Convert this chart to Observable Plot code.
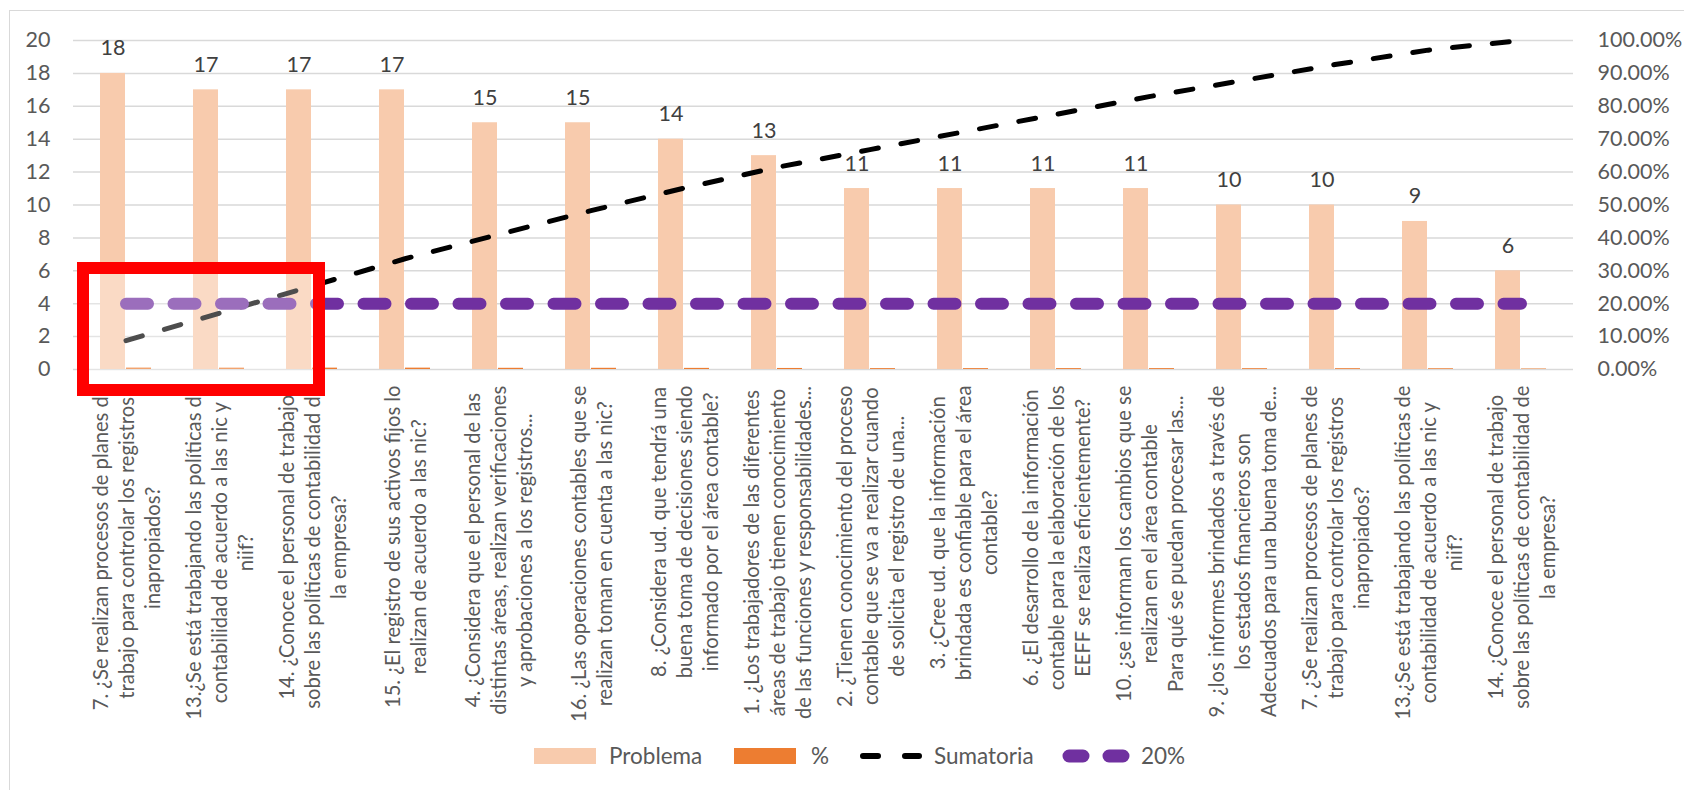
<!DOCTYPE html>
<html><head><meta charset="utf-8">
<script src="https://cdn.jsdelivr.net/npm/d3@7"></script>
<script src="https://cdn.jsdelivr.net/npm/@observablehq/plot@0.6"></script>
<style>
body{margin:0;background:#fff;font-family:Lato,sans-serif;}
#wrap{position:relative;width:1684px;height:790px;overflow:hidden;background:#fff;}
#frame{position:absolute;left:9px;top:10px;width:1700px;height:800px;border:1.5px solid #D9D9D9;box-sizing:border-box;}
#chart{position:absolute;left:0;top:0;}
#legend{position:absolute;top:743px;left:0;width:1684px;height:26px;font-size:22.5px;color:#595959;white-space:nowrap;}
#legend > *{position:absolute;}
#legend span{top:0;line-height:26px;}
#legend .sw{top:5px;width:62px;height:16px;}
#legend svg{top:0;}
#highlight{position:absolute;left:77px;top:262px;width:248px;height:134px;border:12px solid #FF0000;background:rgba(255,255,255,0.3);box-sizing:border-box;}
</style></head>
<body><div id="wrap"><div id="frame"></div><div id="chart"></div><div id="legend"></div><div id="highlight"></div></div>
<script>
const preguntas = [
  "7. ¿Se realizan procesos de planes de\ntrabajo para controlar los registros\ninapropiados?",
  "13.¿Se está trabajando las políticas de\ncontabilidad de acuerdo a las nic y\nniif?",
  "14. ¿Conoce el personal de trabajo\nsobre las políticas de contabilidad de\nla empresa?",
  "15. ¿El registro de sus activos fijos lo\nrealizan de acuerdo a las nic?",
  "4. ¿Considera que el personal de las\ndistintas áreas, realizan verificaciones\ny aprobaciones a los registros...",
  "16. ¿Las operaciones contables que se\nrealizan toman en cuenta a las nic?",
  "8. ¿Considera ud. que tendrá una\nbuena toma de decisiones siendo\ninformado por el área contable?",
  "1. ¿Los trabajadores de las diferentes\náreas de trabajo tienen conocimiento\nde las funciones y responsabilidades...",
  "2. ¿Tienen conocimiento del proceso\ncontable que se va a realizar cuando\nde solicita el registro de una...",
  "3. ¿Cree ud. que la información\nbrindada es confiable para el área\ncontable?",
  "6. ¿El desarrollo de la información\ncontable para la elaboración de los\nEEFF se realiza eficientemente?",
  "10. ¿se informan los cambios que se\nrealizan en el área contable\nPara qué se puedan procesar las...",
  "9. ¿los informes brindados a través de\nlos estados financieros son\nAdecuados para una buena toma de...",
  "7. ¿Se realizan procesos de planes de\ntrabajo para controlar los registros\ninapropiados?",
  "13.¿Se está trabajando las políticas de\ncontabilidad de acuerdo a las nic y\nniif?",
  "14. ¿Conoce el personal de trabajo\nsobre las políticas de contabilidad de\nla empresa?"
];
const problema   = [18, 17, 17, 17, 15, 15, 14, 13, 11, 11, 11, 11, 10, 10, 9, 6];
const porcentaje = [0.0878, 0.0829, 0.0829, 0.0829, 0.0732, 0.0732, 0.0683, 0.0634, 0.0537, 0.0537, 0.0537, 0.0537, 0.0488, 0.0488, 0.0439, 0.0293];
const sumatoria  = [0.0878, 0.1707, 0.2537, 0.3366, 0.4098, 0.4829, 0.5512, 0.6146, 0.6683, 0.7220, 0.7756, 0.8293, 0.8780, 0.9268, 0.9707, 1.0000];
const linea20    = [0.2, 0.2, 0.2, 0.2, 0.2, 0.2, 0.2, 0.2, 0.2, 0.2, 0.2, 0.2, 0.2, 0.2, 0.2, 0.2];
const ticksIzq   = [0, 2, 4, 6, 8, 10, 12, 14, 16, 18, 20];
const ticksDer   = ["0.00%", "10.00%", "20.00%", "30.00%", "40.00%", "50.00%", "60.00%", "70.00%", "80.00%", "90.00%", "100.00%"];
const series     = ["Problema", "%", "Sumatoria", "20%"];

const colores = {problema: "#F8CBAD", pct: "#ED7D31", suma: "#000000", l20: "#7030A0"};
const ESCALA = 20; // 100% on the secondary axis equals 20 on the primary axis
const FUENTE = "Lato, sans-serif";
const TAM_ETIQ = 20.2;

const datos = preguntas.map((p, i) => ({
  i, pregunta: p, problema: problema[i], porcentaje: porcentaje[i],
  sumatoria: sumatoria[i], linea20: linea20[i]
}));

// measure each rotated category label so its longest line ends at the axis and the others are centred on it
const ctx = document.createElement("canvas").getContext("2d");
ctx.font = `${TAM_ETIQ}px Lato`;
const anchoEtiq = d => Math.max(...d.pregunta.split("\n").map(s => ctx.measureText(s).width));

const chart = Plot.plot({
  width: 1684, height: 730,
  marginLeft: 73, marginRight: 111, marginTop: 40, marginBottom: 361,
  style: {fontFamily: FUENTE, background: "transparent", color: "#595959"},
  x: {type: "band", domain: datos.map(d => d.i), padding: 0, axis: null},
  y: {domain: [0, 20], axis: null},
  marks: [
    Plot.gridY(ticksIzq, {stroke: "#D9D9D9", strokeOpacity: 1, strokeWidth: 1.5}),
    Plot.axisY(ticksIzq, {anchor: "left", tickSize: 0, tickPadding: 23, fontSize: 21.5, tickFormat: d => String(d)}),
    Plot.axisY(ticksIzq, {anchor: "right", tickSize: 0, tickPadding: 24, fontSize: 21.5, tickFormat: d => ticksDer[ticksIzq.indexOf(d)]}),
    Plot.barY(datos, {x: "i", y: "problema", fill: colores.problema, insetLeft: 21, insetRight: 47}),
    Plot.barY(datos, {x: "i", y: "porcentaje", fill: colores.pct, insetLeft: 47, insetRight: 21}),
    Plot.line(datos, {x: "i", y: d => d.sumatoria * ESCALA, stroke: colores.suma, strokeWidth: 5, strokeDasharray: "17,23", strokeLinecap: "round"}),
    Plot.line(datos, {x: "i", y: d => d.linea20 * ESCALA, stroke: colores.l20, strokeWidth: 12, strokeDasharray: "22,25.5", strokeLinecap: "round"}),
    Plot.text(datos, {x: "i", y: "problema", text: d => String(d.problema), dx: -13, dy: -18, lineAnchor: "bottom", fontSize: 21.5, fill: "#404040"}),
    ...datos.map(d => Plot.text([d], {
      x: "i", frameAnchor: "bottom", text: "pregunta", rotate: -90,
      textAnchor: "middle", lineAnchor: "middle", lineHeight: 26 / TAM_ETIQ,
      dy: 16 + anchoEtiq(d) / 2, fontSize: TAM_ETIQ, fill: "#595959"
    }))
  ]
});
document.getElementById("chart").append(chart);

// legend
const lg = document.getElementById("legend");
function add(html) { lg.insertAdjacentHTML("beforeend", html); }
add(`<div class="sw" style="left:534px;background:${colores.problema}"></div><span style="left:609px">${series[0]}</span>`);
add(`<div class="sw" style="left:734px;background:${colores.pct}"></div><span style="left:811px">${series[1]}</span>`);
add(`<svg style="left:857px" width="68" height="26"><line x1="6" x2="62" y1="13" y2="13" stroke="${colores.suma}" stroke-width="6" stroke-linecap="round" stroke-dasharray="15,27"/></svg><span style="left:934px">${series[2]}</span>`);
add(`<svg style="left:1061px" width="70" height="26"><line x1="8" x2="62" y1="13" y2="13" stroke="${colores.l20}" stroke-width="13" stroke-linecap="round" stroke-dasharray="14,26"/></svg><span style="left:1141px">${series[3]}</span>`);
</script>
</body></html>
